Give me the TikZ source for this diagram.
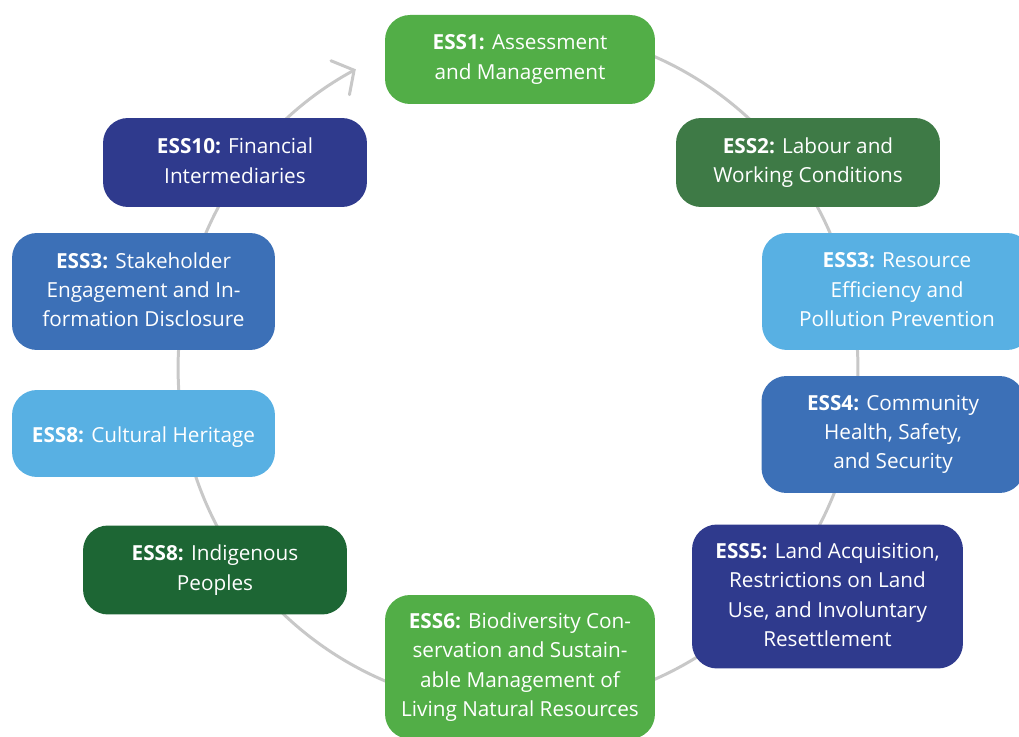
\documentclass[tikz,border=0pt]{standalone}
\usepackage{fontspec}
\setmainfont{Open Sans}
\usepackage{tikz}
\usetikzlibrary{arrows.meta}
\definecolor{lightgreen}{HTML}{52AE47}
\definecolor{midgreen}{HTML}{3E7A46}
\definecolor{darkgreen}{HTML}{1D6634}
\definecolor{lightblue}{HTML}{58B0E3}
\definecolor{midblue}{HTML}{3C70B7}
\definecolor{darkblue}{HTML}{2F3A8D}
\definecolor{ringgray}{HTML}{C8C8C8}
\def\ringrad{6.8cm}
\def\essstrut{\rule[-2pt]{0pt}{15.5pt}}

\begin{document}
\begin{tikzpicture}[x=0.02cm,y=0.02cm]
    \tikzstyle{ess}=[rectangle,rounded corners=0.5cm,text=white,align=center,inner sep=0pt,minimum width=5.3cm,minimum height=1.78cm,font=\fontsize{11.8}{16.7}\selectfont,execute at begin node=\essstrut,execute at end node=\essstrut]
    \tikzstyle{three lines}=[ess,minimum height=2.34cm]
    \tikzstyle{four lines}=[ess,minimum height=2.88cm]
    \tikzstyle{ring}=[draw=ringgray,line width=1.7pt,line cap=round]

    \useasboundingbox (0,0) rectangle (1019,737);
    \clip (0,0) rectangle (1019,737);

    % Draw the ring behind the boxes
    \coordinate (centre) at (518,369);
    \draw[ring,-{Straight Barb[length=9pt,width=22pt,line cap=round]}] (centre) ++(90:\ringrad)
        arc[start angle=90,end angle=-241.5,radius=\ringrad];

    % Draw the standards, clockwise from the top
    \node[ess,fill=lightgreen,minimum width=5.4cm] (ess-1) at (520,677.5)
        {\textbf{ESS1:} Assessment\\and Management};
    \node[ess,fill=midgreen,minimum width=5.28cm] (ess-2) at (808,574.5)
        {\textbf{ESS2:} Labour and\\Working Conditions};
    \node[three lines,fill=lightblue,minimum width=5.4cm] (ess-3) at (897,445.5)
        {\textbf{ESS3:} Resource\\Efficiency and\\Pollution Prevention};
    \node[three lines,fill=midblue,minimum width=5.26cm] (ess-4) at (893,302.5)
        {\textbf{ESS4:} Community\\Health, Safety,\\and Security};
    \node[four lines,fill=darkblue,minimum width=5.42cm] (ess-5) at (827.5,140.5)
        {\textbf{ESS5:} Land Acquisition,\\Restrictions on Land\\Use, and Involuntary\\Resettlement};
    \node[four lines,fill=lightgreen,minimum width=5.4cm] (ess-6) at (520,70)
        {\textbf{ESS6:} Biodiversity Con-\\servation and Sustain-\\able Management of\\Living Natural Resources};
    \node[ess,fill=darkgreen,minimum width=5.28cm] (ess-7) at (215,167)
        {\textbf{ESS8:} Indigenous\\Peoples};
    \node[ess,fill=lightblue,minimum width=5.26cm,minimum height=1.74cm] (ess-8) at (143.5,303.5)
        {\textbf{ESS8:} Cultural Heritage};
    \node[three lines,fill=midblue,minimum width=5.26cm] (ess-9) at (143.5,445.5)
        {\textbf{ESS3:} Stakeholder\\Engagement and In-\\formation Disclosure};
    \node[ess,fill=darkblue,minimum width=5.28cm] (ess-10) at (235,574.5)
        {\textbf{ESS10:} Financial\\Intermediaries};
\end{tikzpicture}
\end{document}
